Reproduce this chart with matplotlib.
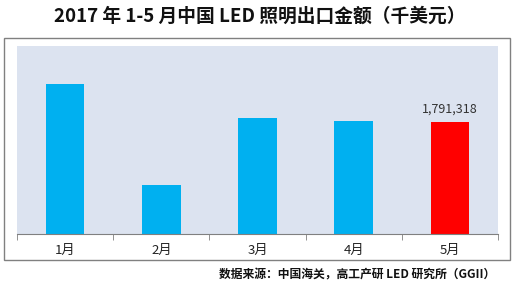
import matplotlib
matplotlib.use("Agg")
from matplotlib import pyplot as plt
from matplotlib.patches import Rectangle
import numpy as np

plt.rcParams['font.family'] = ['Noto Sans CJK SC', 'DejaVu Sans']

months = ["1月", "2月", "3月", "4月", "5月"]
exports = [2400000, 784000, 1855000, 1807000, 1791318]
colors = ["#00B0F0", "#00B0F0", "#00B0F0", "#00B0F0", "#FF0000"]

fig = plt.figure(figsize=(5.19, 2.97), dpi=100)

# outer frame around the chart
fig.patches.append(Rectangle((0.0077, 0.1246), 0.975, 0.7475, transform=fig.transFigure,
                             fill=False, edgecolor="#808080", linewidth=1))

ax = fig.add_axes([0.0328, 0.2121, 0.9267, 0.633])
ax.set_facecolor("#DCE3F0")
x = np.arange(len(months))
ax.bar(x, exports, width=0.4, color=colors)
ax.set_xlim(-0.5, 4.5)
ax.set_ylim(0, 3000000)
ax.set_yticks([])
for s in ["top", "right", "left"]:
    ax.spines[s].set_visible(False)
ax.spines["bottom"].set_color("#808080")

ax.set_xticks(x)
ax.set_xticklabels(months, fontsize=9.5, color="#222222")
ax.tick_params(axis="x", which="major", length=0, pad=7)
ax.set_xticks(np.arange(-0.5, 5, 1), minor=True)
ax.tick_params(axis="x", which="minor", length=4, color="#808080")

ax.text(4, exports[4] + 90000, "{:,}".format(exports[4]), ha="center", va="bottom",
        fontsize=9, color="#333333")

fig.text(0.5, 0.945, "2017 年 1-5 月中国 LED 照明出口金额（千美元）", ha="center", va="center",
         fontsize=13.5, fontweight="bold", color="#111111")
fig.text(0.955, 0.075, "数据来源：中国海关，高工产研 LED 研究所（GGII）", ha="right", va="center",
         fontsize=8.5, fontweight="bold", color="#111111")

fig.savefig("out.png", dpi=100)
